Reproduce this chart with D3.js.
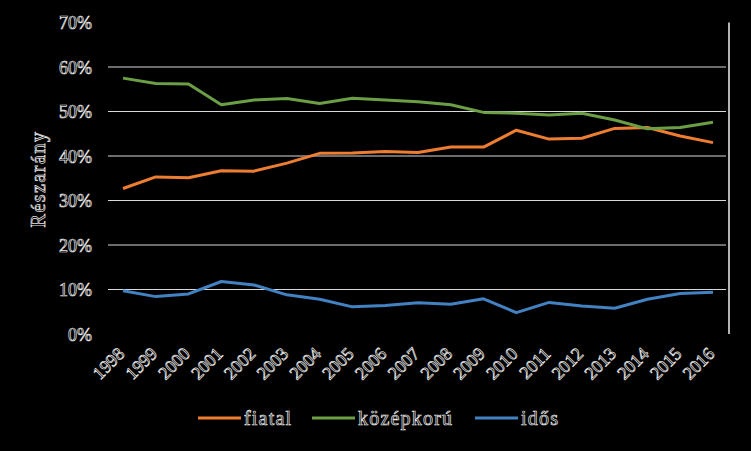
<!DOCTYPE html>
<html><head><meta charset="utf-8">
<script src="https://cdn.jsdelivr.net/npm/d3@7"></script>
<style>
html,body{margin:0;padding:0;background:#000;}
svg{display:block;}
.t{font-family:"Liberation Serif","Times New Roman",serif;fill:#000;stroke:#e6e6e6;stroke-width:0.7px;}
</style></head>
<body>
<svg id="c" width="751" height="451"></svg>
<script>
const years = ["1998","1999","2000","2001","2002","2003","2004","2005","2006","2007","2008","2009","2010","2011","2012","2013","2014","2015","2016"];
const fiatal = [32.7,35.3,35.1,36.7,36.6,38.4,40.6,40.7,41.0,40.8,42.0,42.0,45.8,43.8,44.0,46.2,46.4,44.5,43.0];
const kozepkoru = [57.5,56.3,56.2,51.5,52.6,52.9,51.8,53.0,52.6,52.2,51.5,49.8,49.6,49.2,49.6,48.1,46.1,46.4,47.6];
const idos = [9.7,8.4,9.0,11.8,11.0,8.8,7.8,6.1,6.4,7.0,6.7,7.9,4.8,7.1,6.3,5.8,7.8,9.1,9.4];
const yTicks = [0,10,20,30,40,50,60,70];
const seriesNames = ["fiatal","középkorú","idős"];
const seriesColors = ["#ed7d31","#6b9e45","#4281c2"];
const seriesData = [fiatal, kozepkoru, idos];

(function(){
const svg = d3.select("#c");
const pL = 108, pR = 726, pT = 22.5, pB = 334;
const y = d3.scaleLinear().domain([0,70]).range([pB, pT]);
const x = d3.scalePoint().domain(years).range([123, 713]);

svg.append("g").selectAll("line").data(yTicks.filter(d => d > 0 && d < 70)).join("line")
  .attr("x1", pL).attr("x2", pR)
  .attr("y1", d => y(d)).attr("y2", d => y(d))
  .attr("stroke", "#d9d9d9").attr("stroke-width", 1);

svg.append("line").attr("x1", 729).attr("x2", 729).attr("y1", pT).attr("y2", pB)
  .attr("stroke", "#f0f0f0").attr("stroke-width", 1.5);

const yAxis = d3.axisLeft(y).tickValues(yTicks).tickFormat(d => d + "%").tickSize(0).tickPadding(0);
const gy = svg.append("g").attr("transform", "translate(92,0)").call(yAxis);
gy.select(".domain").remove();
gy.selectAll("text").attr("class", "t").attr("font-size", 18).attr("dy", "0.35em");

const xAxis = d3.axisBottom(x).tickSize(0).tickPadding(0);
const gx = svg.append("g").attr("transform", "translate(0,0)").call(xAxis);
gx.select(".domain").remove();
gx.selectAll("text").attr("class", "t").attr("font-size", 18)
  .attr("text-anchor", "end").attr("y", 0).attr("dy", 0)
  .attr("transform", "translate(2,355) rotate(-45)");

svg.append("text").attr("class", "t").attr("font-size", 20).attr("letter-spacing", 1.5)
  .attr("text-anchor", "middle")
  .attr("transform", "translate(45,179) rotate(-90)")
  .text("Részarány");

const line = d3.line().x((d, i) => x(years[i])).y(d => y(d));
seriesData.forEach((s, k) => {
  svg.append("path").datum(s).attr("d", line)
    .attr("fill", "none").attr("stroke", seriesColors[k]).attr("stroke-width", 3)
    .attr("stroke-linejoin", "round");
});

const legX = [198, 312, 475];
const lg = svg.append("g");
seriesNames.forEach((n, k) => {
  lg.append("line").attr("x1", legX[k]).attr("x2", legX[k] + 43)
    .attr("y1", 418).attr("y2", 418)
    .attr("stroke", seriesColors[k]).attr("stroke-width", 3);
  lg.append("text").attr("class", "t").attr("font-size", 20).attr("letter-spacing", 1.2)
    .attr("x", legX[k] + 46).attr("y", 425).text(n);
});
})();
</script>
</body></html>
